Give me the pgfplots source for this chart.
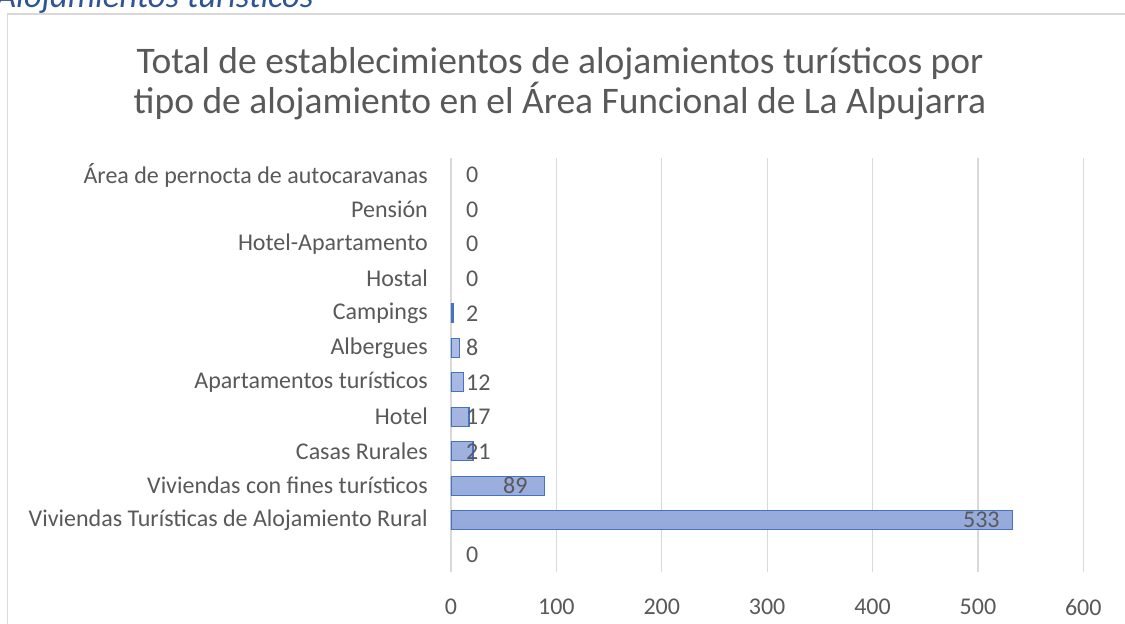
\documentclass[border=0pt]{standalone}
\usepackage{fontspec}
\setmainfont{Carlito}
\usepackage{pgfplots}
\pgfplotsset{compat=1.18}
\definecolor{txt}{HTML}{595959}
\definecolor{gridc}{HTML}{D9D9D9}
\definecolor{barline}{HTML}{4472C4}
\definecolor{bartop}{HTML}{B2C0E6}
\definecolor{barbot}{HTML}{95AADB}
\definecolor{capc}{HTML}{2F5597}
\newcommand{\lblfont}{\fontsize{24}{28}\selectfont}

\begin{document}
\begin{tikzpicture}[x=1pt,y=1pt]
\begin{scope}
\clip (0,0) rectangle (1125,624);
\fill[white] (0,0) rectangle (1125,624);
% frame of the chart area (bottom and right edge fall outside the crop)
\draw[gridc, line width=1.3pt] (7.5,-30) -- (7.5,610) -- (1160,610);
% caption above, mostly cut off
\node[anchor=base west, inner sep=0, text=capc,
      font=\itshape\fontsize{34.5}{40}\selectfont] at (-4,616) {Alojamientos turísticos};
% title
\node[anchor=base, inner sep=0, text=txt, font=\fontsize{37.5}{45}\selectfont]
  at (560,550) {Total de establecimientos de alojamientos turísticos por};
\node[anchor=base, inner sep=0, text=txt, font=\fontsize{37.5}{45}\selectfont]
  at (560,510) {tipo de alojamiento en el Área Funcional de La Alpujarra};

\begin{axis}[
  at={(451pt,52pt)}, anchor=south west,
  scale only axis, width=632.3pt, height=414pt,
  xmin=0, xmax=600, ymin=-0.5, ymax=11.5,
  axis line style={draw=none},
  major tick length=0pt,
  xtick={0,100,...,600},
  xmajorgrids, grid style={gridc, line width=1.3pt},
  ytick={0,...,11},
  yticklabels={{},Viviendas Turísticas de Alojamiento Rural,Viviendas con fines turísticos,
    Casas Rurales,Hotel,Apartamentos turísticos,Albergues,Campings,Hostal,
    Hotel-Apartamento,Pensión,Área de pernocta de autocaravanas},
  y tick label style={font=\lblfont, text=txt, inner sep=0pt, xshift=-23pt},
  x tick label style={font=\lblfont, text=txt, inner sep=0pt, yshift=-27pt},
  /pgf/number format/assume math mode=true,
]
\addplot[xbar, bar width=0.55, draw=barline, line width=1.3pt,
         top color=bartop, bottom color=barbot]
  coordinates {(533,1) (89,2) (21,3) (17,4) (12,5) (8,6) (2,7)};
\addplot[draw=none, mark=none, nodes near coords, point meta=explicit symbolic,
         nodes near coords style={anchor=west, inner sep=0pt, font=\lblfont, text=txt}]
  coordinates {(14.2,0) [0] (485.8,1) [533] (49.3,2) [89] (14.2,3) [21]
               (14.2,4) [17] (14.2,5) [12] (14.2,6) [8] (14.2,7) [2]
               (14.2,8) [0] (14.2,9) [0] (14.2,10) [0] (14.2,11) [0]};
\end{axis}
\end{scope}
\pgfresetboundingbox
\useasboundingbox (0,0) rectangle (1125,624);
\end{tikzpicture}
\end{document}
